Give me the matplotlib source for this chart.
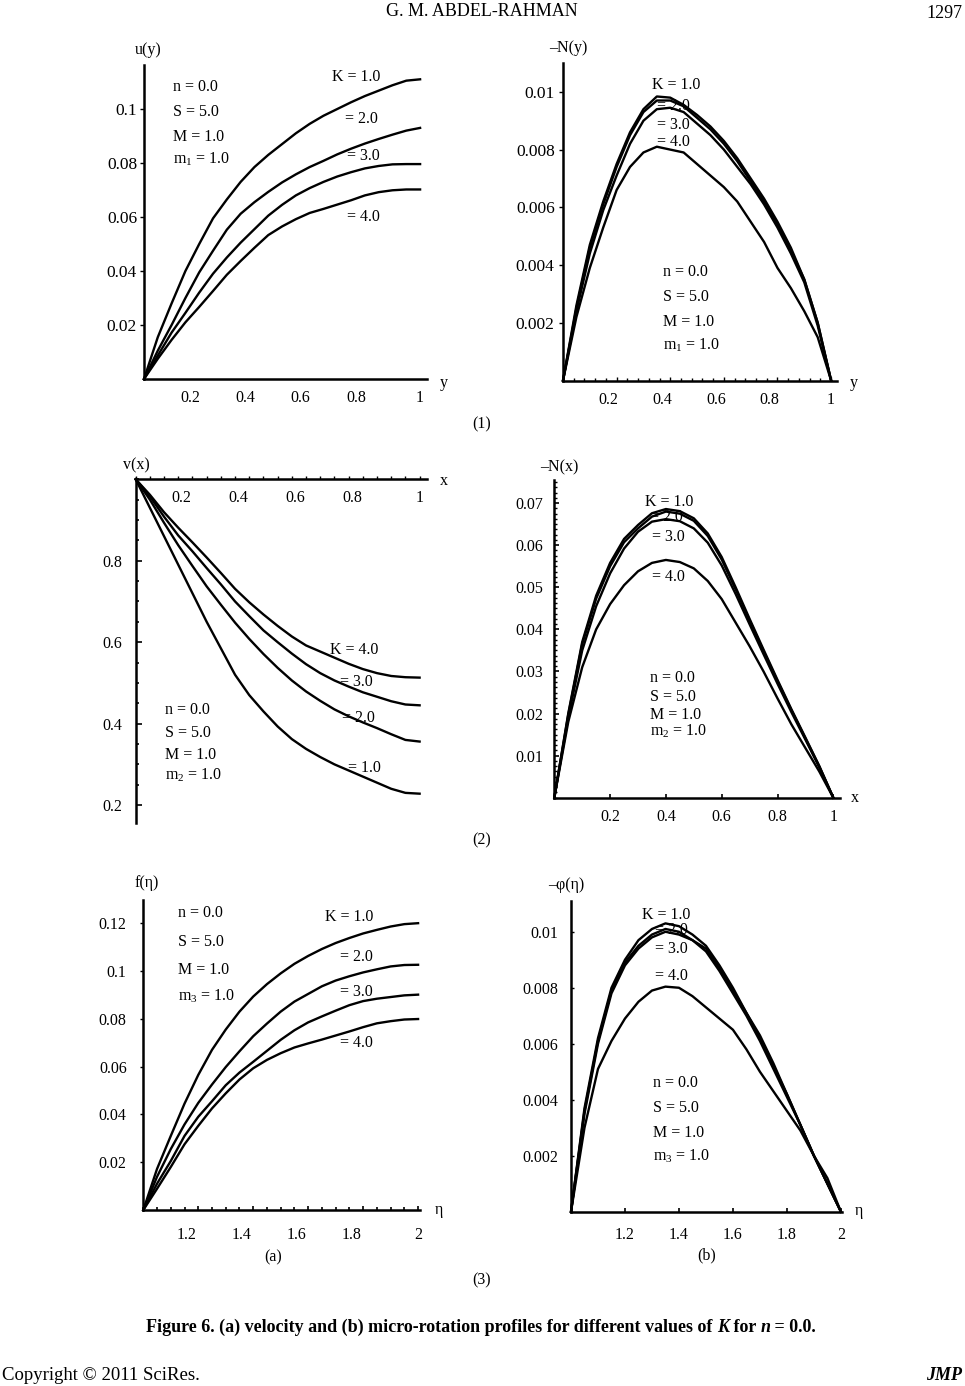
import matplotlib
matplotlib.use('Agg')
import matplotlib.pyplot as plt
from matplotlib.ticker import MultipleLocator
from matplotlib.transforms import ScaledTranslation

plt.rcParams['font.family'] = ['Liberation Serif', 'DejaVu Serif']
plt.rcParams['font.size'] = 11.5
plt.rcParams['mathtext.fontset'] = 'custom'
plt.rcParams['mathtext.rm'] = 'Liberation Serif'
plt.rcParams['mathtext.it'] = 'Liberation Serif:italic'
plt.rcParams['mathtext.default'] = 'regular'

W, H = 965, 1386

# shared abscissae (values read every 0.05 off the curves)
x01 = [0, 0.05, 0.1, 0.15, 0.2, 0.25, 0.3, 0.35, 0.4, 0.45, 0.5,
       0.55, 0.6, 0.65, 0.7, 0.75, 0.8, 0.85, 0.9, 0.95, 1.0]
x12 = [1, 1.05, 1.1, 1.15, 1.2, 1.25, 1.3, 1.35, 1.4, 1.45, 1.5,
       1.55, 1.6, 1.65, 1.7, 1.75, 1.8, 1.85, 1.9, 1.95, 2.0]

# ---- (1) velocity u(y) and micro-rotation -N(y), K = 1..4 ----
u_k1 = [0, .0155, .028, .040, .050, .0595, .0665, .073, .0785, .083, .087,
        .091, .0945, .0975, .100, .1025, .1048, .1068, .1088, .1105, .111]
u_k2 = [0, .0105, .020, .030, .0395, .0475, .0553, .0612, .0655, .0693, .0728,
        .0758, .0785, .0808, .0832, .0853, .0872, .0889, .0905, .0920, .093]
u_k3 = [0, .0087, .0172, .0245, .032, .039, .045, .0505, .0555, .0605, .0645,
        .068, .0707, .073, .075, .0766, .078, .0789, .0795, .0796, .0796]
u_k4 = [0, .0075, .0145, .021, .0267, .0326, .0386, .0437, .0486, .0533, .0565,
        .0592, .0615, .063, .0646, .0662, .068, .0692, .0699, .0702, .0702]

ny_k1 = [0, .0026, .0047, .0062, .0075, .0086, .0094, .00984, .0098, .00955, .0092,
         .0088, .0083, .0077, .0070, .0063, .0055, .0046, .0035, .0020, 0]
ny_k2 = [0, .0025, .0046, .0061, .0074, .0085, .0093, .0097, .0097, .0095, .0091,
         .0087, .0082, .0076, .0069, .0062, .0054, .0045, .0035, .0020, 0]
ny_k3 = [0, .0024, .0044, .0059, .0071, .0082, .0090, .0094, .00945, .0093, .0089,
         .0085, .0080, .0074, .0068, .0061, .0053, .0044, .0034, .0019, 0]
ny_k4 = [0, .0022, .0039, .0053, .0066, .0074, .0079, .0081, .0080, .0079, .0075,
         .0071, .0067, .0062, .0055, .0048, .0039, .0032, .0024, .0015, 0]

# ---- (2) velocity v(x) and micro-rotation -N(x) ----
v_k1 = [1, .93, .86, .79, .72, .65, .585, .52, .47, .43, .393,
        .362, .338, .318, .30, .285, .270, .255, .240, .230, .228]
v_k2 = [1, .95, .893, .838, .787, .737, .692, .648, .608, .571, .537,
        .506, .479, .456, .435, .418, .403, .389, .374, .360, .356]
v_k3 = [1, .958, .908, .862, .823, .782, .742, .70, .664, .629, .600,
        .572, .546, .524, .506, .491, .477, .466, .455, .447, .445]
v_k4 = [1, .962, .919, .881, .845, .808, .770, .731, .698, .668, .640,
        .614, .592, .577, .562, .547, .534, .524, .517, .514, .513]

nx_k1 = [0, .020, .037, .048, .0558, .0615, .0648, .0676, .0686, .0681, .0664,
         .0628, .0572, .0500, .0425, .0352, .0280, .0210, .0143, .0075, 0]
nx_k2 = [0, .0197, .0365, .0473, .055, .0607, .0640, .0668, .0680, .0675, .0658,
         .0622, .0566, .0495, .0421, .0348, .0277, .0208, .0141, .0074, 0]
nx_k3 = [0, .019, .035, .0455, .0533, .0592, .0632, .0656, .0662, .0657, .0640,
         .0606, .0552, .0484, .0412, .0341, .0271, .0203, .0138, .0072, 0]
nx_k4 = [0, .018, .031, .040, .0460, .0505, .0538, .0558, .0565, .0560, .0545,
         .0515, .0472, .0416, .0360, .0300, .0236, .0174, .0118, .0062, 0]

# ---- (3) velocity f(eta) and micro-rotation -phi(eta) ----
f_k1 = [0, .0172, .031, .0445, .0565, .067, .0755, .083, .0893, .0945, .099,
        .103, .1063, .1092, .1117, .1138, .1157, .1172, .1186, .1196, .120]
f_k2 = [0, .0139, .0255, .0358, .0448, .0525, .0598, .0664, .0727, .078, .083,
        .0872, .0904, .0936, .096, .0978, .0994, .1007, .1019, .1025, .1026]
f_k3 = [0, .011, .0205, .031, .039, .0455, .0522, .0575, .062, .0666, .0712,
        .0752, .0785, .081, .0834, .0857, .0874, .0884, .0891, .0898, .0901]
f_k4 = [0, .0089, .018, .0275, .0352, .0425, .0488, .0546, .0593, .0628, .0656,
        .068, .0697, .0713, .073, .0747, .0765, .0781, .079, .0797, .0799]

p_k1 = [0, .0037, .0062, .0080, .0090, .0097, .0101, .0103, .0102, .0099, .0095,
        .0088, .0080, .0071, .0063, .0053, .0042, .0031, .0020, .0010, 0]
p_k2 = [0, .0036, .0061, .0079, .0089, .0095, .0099, .0101, .0100, .0097, .0094,
        .0087, .0079, .0071, .0062, .0052, .0042, .0031, .0020, .0010, 0]
p_k3 = [0, .0035, .0060, .0078, .0088, .0094, .0098, .0100, .0099, .0097, .0093,
        .0086, .0078, .0070, .0061, .0051, .0041, .0031, .0020, .0010, 0]
p_k4 = [0, .0030, .0051, .0061, .0069, .0075, .0079, .00804, .0080, .0077, .0073,
        .0069, .0065, .0058, .0050, .0043, .0036, .0029, .0020, .0012, 0]

fig = plt.figure(figsize=(W / 100, H / 100), dpi=100)


def make_ax(left, top, right, bottom, spines=('left', 'bottom')):
    ax = fig.add_axes([left / W, 1 - bottom / H, (right - left) / W, (bottom - top) / H])
    ax.patch.set_visible(False)
    for side, sp in ax.spines.items():
        sp.set_visible(side in spines)
        sp.set_linewidth(1.8)
    return ax


def draw_curves(ax, x, series):
    for ys in series:
        ax.plot(x, ys, color='black', lw=1.7, solid_joinstyle='round', clip_on=False)


def shift_decimal_labels(ax, dx):
    # the decimal tick labels sit a little left of their ticks in the original
    off = ScaledTranslation(-dx / 100, 0, fig.dpi_scale_trans)
    for lab in ax.get_xticklabels():
        if '.' in lab.get_text():
            lab.set_transform(lab.get_transform() + off)


# panel (1) left
ax1 = make_ax(144, 65, 427, 379)
draw_curves(ax1, x01, [u_k1, u_k2, u_k3, u_k4])
ax1.set_xlim(0, 1.025)
ax1.set_ylim(0, 0.1163)
ax1.set_xticks([0.2, 0.4, 0.6, 0.8, 1.0], labels=['0.2', '0.4', '0.6', '0.8', '1'])
ax1.set_yticks([0.02, 0.04, 0.06, 0.08, 0.1], labels=['0.02', '0.04', '0.06', '0.08', '0.1'])
ax1.tick_params(axis='x', length=0, pad=8)
ax1.tick_params(axis='y', direction='out', length=3, width=1, pad=2, labelsize=12.5)
shift_decimal_labels(ax1, 9)

# panel (1) right
ax2 = make_ax(563, 63, 837, 380.5)
draw_curves(ax2, x01, [ny_k1, ny_k2, ny_k3, ny_k4])
ax2.set_xlim(0, 1.022)
ax2.set_ylim(0, 0.0110)
ax2.set_xticks([0.2, 0.4, 0.6, 0.8, 1.0], labels=['0.2', '0.4', '0.6', '0.8', '1'])
ax2.xaxis.set_minor_locator(MultipleLocator(0.04))
ax2.set_yticks([0.002, 0.004, 0.006, 0.008, 0.01], labels=['0.002', '0.004', '0.006', '0.008', '0.01'])
ax2.tick_params(axis='x', which='major', direction='in', length=3, width=1, pad=8)
ax2.tick_params(axis='x', which='minor', direction='in', length=2.5, width=1)
ax2.tick_params(axis='y', direction='out', length=3, width=1, pad=3, labelsize=12.5)
shift_decimal_labels(ax2, 8)

# panel (2) left, axis crossing at v = 1 on top
ax3 = make_ax(135.7, 479.3, 426.7, 823, spines=('left', 'top'))
draw_curves(ax3, x01, [v_k1, v_k2, v_k3, v_k4])
ax3.set_xlim(0, 1.025)
ax3.set_ylim(0.156, 1)
ax3.set_xticks([0.2, 0.4, 0.6, 0.8, 1.0], labels=['0.2', '0.4', '0.6', '0.8', '1'])
ax3.xaxis.set_minor_locator(MultipleLocator(0.05))
ax3.set_yticks([0.2, 0.4, 0.6, 0.8], labels=['0.2', '0.4', '0.6', '0.8'])
ax3.yaxis.set_minor_locator(MultipleLocator(0.05))
ax3.tick_params(axis='x', which='both', top=True, bottom=False, labeltop=True, labelbottom=False,
                direction='out', length=2, width=1, pad=-21)
ax3.tick_params(axis='y', which='major', direction='in', length=4, width=1.2, pad=10)
ax3.tick_params(axis='y', which='minor', direction='in', length=2.5, width=1.2)
shift_decimal_labels(ax3, 11)

# panel (2) right
ax4 = make_ax(554.3, 480, 840, 797.7)
draw_curves(ax4, x01, [nx_k1, nx_k2, nx_k3, nx_k4])
ax4.set_xlim(0, 1.024)
ax4.set_ylim(0, 0.0755)
ax4.set_xticks([0.2, 0.4, 0.6, 0.8, 1.0], labels=['0.2', '0.4', '0.6', '0.8', '1'])
ax4.set_yticks([0.01, 0.02, 0.03, 0.04, 0.05, 0.06, 0.07],
               labels=['0.01', '0.02', '0.03', '0.04', '0.05', '0.06', '0.07'])
ax4.yaxis.set_minor_locator(MultipleLocator(0.00125))
ax4.tick_params(axis='x', direction='in', length=3, width=1.2, pad=8)
ax4.tick_params(axis='y', which='major', direction='in', length=3.5, width=1.2, pad=8)
ax4.tick_params(axis='y', which='minor', direction='in', length=2, width=1)

# panel (3a)
ax5 = make_ax(143.3, 900, 420, 1210)
draw_curves(ax5, x12, [f_k1, f_k2, f_k3, f_k4])
ax5.set_xlim(1, 2.007)
ax5.set_ylim(0, 0.1297)
ax5.set_xticks([1.2, 1.4, 1.6, 1.8, 2.0], labels=['1.2', '1.4', '1.6', '1.8', '2'])
ax5.xaxis.set_minor_locator(MultipleLocator(0.05))
ax5.set_yticks([0.02, 0.04, 0.06, 0.08, 0.1, 0.12], labels=['0.02', '0.04', '0.06', '0.08', '0.1', '0.12'])
ax5.tick_params(axis='x', which='major', direction='in', length=3, width=1.2, pad=12)
ax5.tick_params(axis='x', which='minor', direction='in', length=2.5, width=1.2)
ax5.tick_params(axis='y', direction='out', length=2, width=1, pad=10)
shift_decimal_labels(ax5, 12)

# panel (3b)
ax6 = make_ax(571, 900.7, 841.7, 1211.7)
draw_curves(ax6, x12, [p_k1, p_k2, p_k3, p_k4])
ax6.set_xlim(1, 2.003)
ax6.set_ylim(0, 0.01111)
ax6.set_xticks([1.2, 1.4, 1.6, 1.8, 2.0], labels=['1.2', '1.4', '1.6', '1.8', '2'])
ax6.set_yticks([0.002, 0.004, 0.006, 0.008, 0.01], labels=['0.002', '0.004', '0.006', '0.008', '0.01'])
ax6.tick_params(axis='x', direction='in', length=3, width=1.2, pad=11)
ax6.tick_params(axis='y', direction='in', length=2, width=1, pad=9)

# page layer in pixel coordinates for all the labels and notes
page = fig.add_axes([0, 0, 1, 1])
page.set_xlim(0, W)
page.set_ylim(H, 0)
page.axis('off')
page.patch.set_visible(False)


def note(x, y, s, **kw):
    return page.text(x, y, s, va='center', ha='left', **kw)


def params_block(x, ys, sub):
    labels = ['n = 0.0', 'S = 5.0', 'M = 1.0', 'm$_' + sub + '$ = 1.0']
    for y, s in zip(ys, labels):
        note(x, y, s)


def k_labels(xs, ys, values):
    for i, (x, y, v) in enumerate(zip(xs, ys, values)):
        note(x, y, ('K = ' if i == 0 else '= ') + v)


# panel (1)
note(135, 50, 'u(y)')
note(440, 383, 'y')
params_block(173, [87, 112, 137, 159], '1')
k_labels([332, 345, 347, 347], [77, 119, 156, 217], ['1.0', '2.0', '3.0', '4.0'])

note(549, 48, '\u2013N(y)')
note(850, 383, 'y')
k_labels([651.7, 656.7, 656.7, 656.7], [85, 106, 125, 141.7], ['1.0', '2.0', '3.0', '4.0'])
params_block(663, [271.7, 296.7, 321.7, 345], '1')
page.text(482, 424, '(1)', ha='center', va='center')

# panel (2)
note(123, 465, 'v(x)')
note(440, 481, 'x')
k_labels([330, 340, 341.7, 348.3], [650, 681.7, 718.3, 768.3], ['4.0', '3.0', '2.0', '1.0'])
params_block(165, [710, 732.7, 755, 775], '2')

note(540, 467, '\u2013N(x)')
note(851, 798, 'x')
k_labels([645, 650, 651.7, 651.7], [501.7, 516.7, 537.3, 576.7], ['1.0', '2.0', '3.0', '4.0'])
params_block(650, [678, 696.7, 715, 731.7], '2')
page.text(482, 840, '(2)', ha='center', va='center')

# panel (3)
note(135, 883, 'f(\u03b7)')
note(435, 1210, '\u03b7')
params_block(178, [913.3, 941.7, 970, 996.7], '3')
k_labels([325, 340, 340, 340], [917.3, 956.7, 991.7, 1042.7], ['1.0', '2.0', '3.0', '4.0'])
page.text(273, 1257, '(a)', ha='center', va='center')

note(548, 885, '\u2013\u03c6(\u03b7)')
note(855, 1211, '\u03b7')
k_labels([641.7, 655, 655, 655], [915, 930, 949.3, 976], ['1.0', '2.0', '3.0', '4.0'])
params_block(653.3, [1083.3, 1108.3, 1133.3, 1156.7], '3')
page.text(707, 1255, '(b)', ha='center', va='center')
page.text(482, 1280, '(3)', ha='center', va='center')

# header, caption and footer
page.text(482, 11, 'G. M. ABDEL-RAHMAN', ha='center', va='center', fontsize=13)
page.text(962, 14, '1297', ha='right', va='center', fontsize=13)

parts = [('Figure 6. (a) velocity and (b) micro-rotation profiles for different values of ', 'normal'),
         ('K', 'italic'), (' for ', 'normal'), ('n', 'italic'), (' = 0.0.', 'normal')]
prev = page.text(146, 1336, parts[0][0], ha='left', va='bottom', fontweight='bold', fontsize=13)
for s, st in parts[1:]:
    prev = page.annotate(s, xy=(1, 0), xycoords=prev, ha='left', va='bottom',
                         fontweight='bold', fontstyle=st, fontsize=13)

page.text(2, 1376, 'Copyright \u00a9 2011 SciRes.', ha='left', va='center', fontsize=13.5)
page.text(962, 1376, 'JMP', ha='right', va='center', fontsize=13, fontweight='bold', fontstyle='italic')

fig.savefig('out.png', dpi=100)
